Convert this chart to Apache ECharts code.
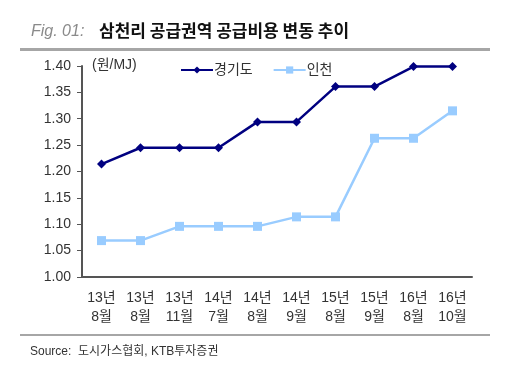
<!DOCTYPE html>
<html>
<head>
<meta charset="utf-8">
<script src="https://cdn.jsdelivr.net/npm/echarts@6/dist/echarts.min.js"></script>
<style>
  html, body { margin: 0; padding: 0; background: #fff; }
  #chart { width: 508px; height: 376px; }
</style>
</head>
<body>
<div id="chart"></div>
<script>
'use strict';
// 카테고리 (두 줄 라벨)
var categories = ['13년\n8월', '13년\n8월', '13년\n11월', '14년\n7월', '14년\n8월',
    '14년\n9월', '15년\n8월', '15년\n9월', '16년\n8월', '16년\n10월'];
// 경기도 공급비용 (원/MJ)
var gyeonggi = [1.214, 1.245, 1.245, 1.245, 1.294, 1.294, 1.361, 1.361, 1.399, 1.399];
// 인천 공급비용 (원/MJ)
var incheon = [1.069, 1.069, 1.096, 1.096, 1.096, 1.114, 1.114, 1.263, 1.263, 1.315];

var font = 'Arial, "Liberation Sans", "Noto Sans CJK KR", sans-serif';
var chart = echarts.init(document.getElementById('chart'));

var option = {
    animation: false,
    textStyle: { fontFamily: font },
    grid: { left: 82, right: 36, top: 66, bottom: 99 },
    legend: {
        top: 58,
        left: 175,
        itemGap: 20,
        itemWidth: 32,
        itemHeight: 9,
        textStyle: { fontSize: 14, color: '#333', fontFamily: font, padding: [0, 0, 0, -4] },
        data: ['경기도', '인천']
    },
    graphic: [
        { type: 'text', left: 31, top: 24, style: { text: 'Fig. 01:', font: 'italic 16px Arial, "Liberation Sans"', fill: '#8a8a8a' } },
        { type: 'text', left: 99, top: 22, style: { text: '삼천리 공급권역 공급비용 변동 추이', font: 'bold 17px "Noto Sans CJK KR"', fill: '#111' } },
        { type: 'rect', shape: { x: 20, y: 48, width: 470, height: 3 }, style: { fill: '#a6a6a6' } },
        { type: 'rect', shape: { x: 20, y: 334, width: 470, height: 2 }, style: { fill: '#a6a6a6' } },
        { type: 'text', left: 30, top: 346, style: { text: 'Source:  도시가스협회, KTB투자증권', font: '12px Arial, "Noto Sans CJK KR"', fill: '#333' } },
        { type: 'text', left: 92, top: 58, style: { text: '(원/MJ)', font: '14px Arial, "Noto Sans CJK KR"', fill: '#333' } }
    ],
    xAxis: {
        type: 'category',
        data: categories,
        boundaryGap: true,
        axisLine: { lineStyle: { color: '#555', width: 2 } },
        axisTick: { inside: true, length: 6, lineStyle: { color: '#555' } },
        axisLabel: { fontSize: 14, color: '#333', lineHeight: 19, margin: 12, interval: 0 }
    },
    yAxis: {
        type: 'value',
        min: 1.0,
        max: 1.4,
        interval: 0.05,
        splitLine: { show: false },
        axisLine: { show: true, lineStyle: { color: '#555', width: 2 } },
        axisTick: { show: true, length: 5, lineStyle: { color: '#555' } },
        axisLabel: {
            fontSize: 14, color: '#333', margin: 11,
            formatter: function (v) { return v.toFixed(2); }
        }
    },
    series: [{
        name: '경기도',
        type: 'line',
        data: gyeonggi,
        symbol: 'diamond',
        symbolSize: 9,
        lineStyle: { color: '#000080', width: 2.5 },
        itemStyle: { color: '#000080' }
    }, {
        name: '인천',
        type: 'line',
        data: incheon,
        symbol: 'rect',
        symbolSize: 9,
        lineStyle: { color: '#99ccff', width: 2.5 },
        itemStyle: { color: '#99ccff' }
    }]
};
chart.setOption(option);
</script>
</body>
</html>
